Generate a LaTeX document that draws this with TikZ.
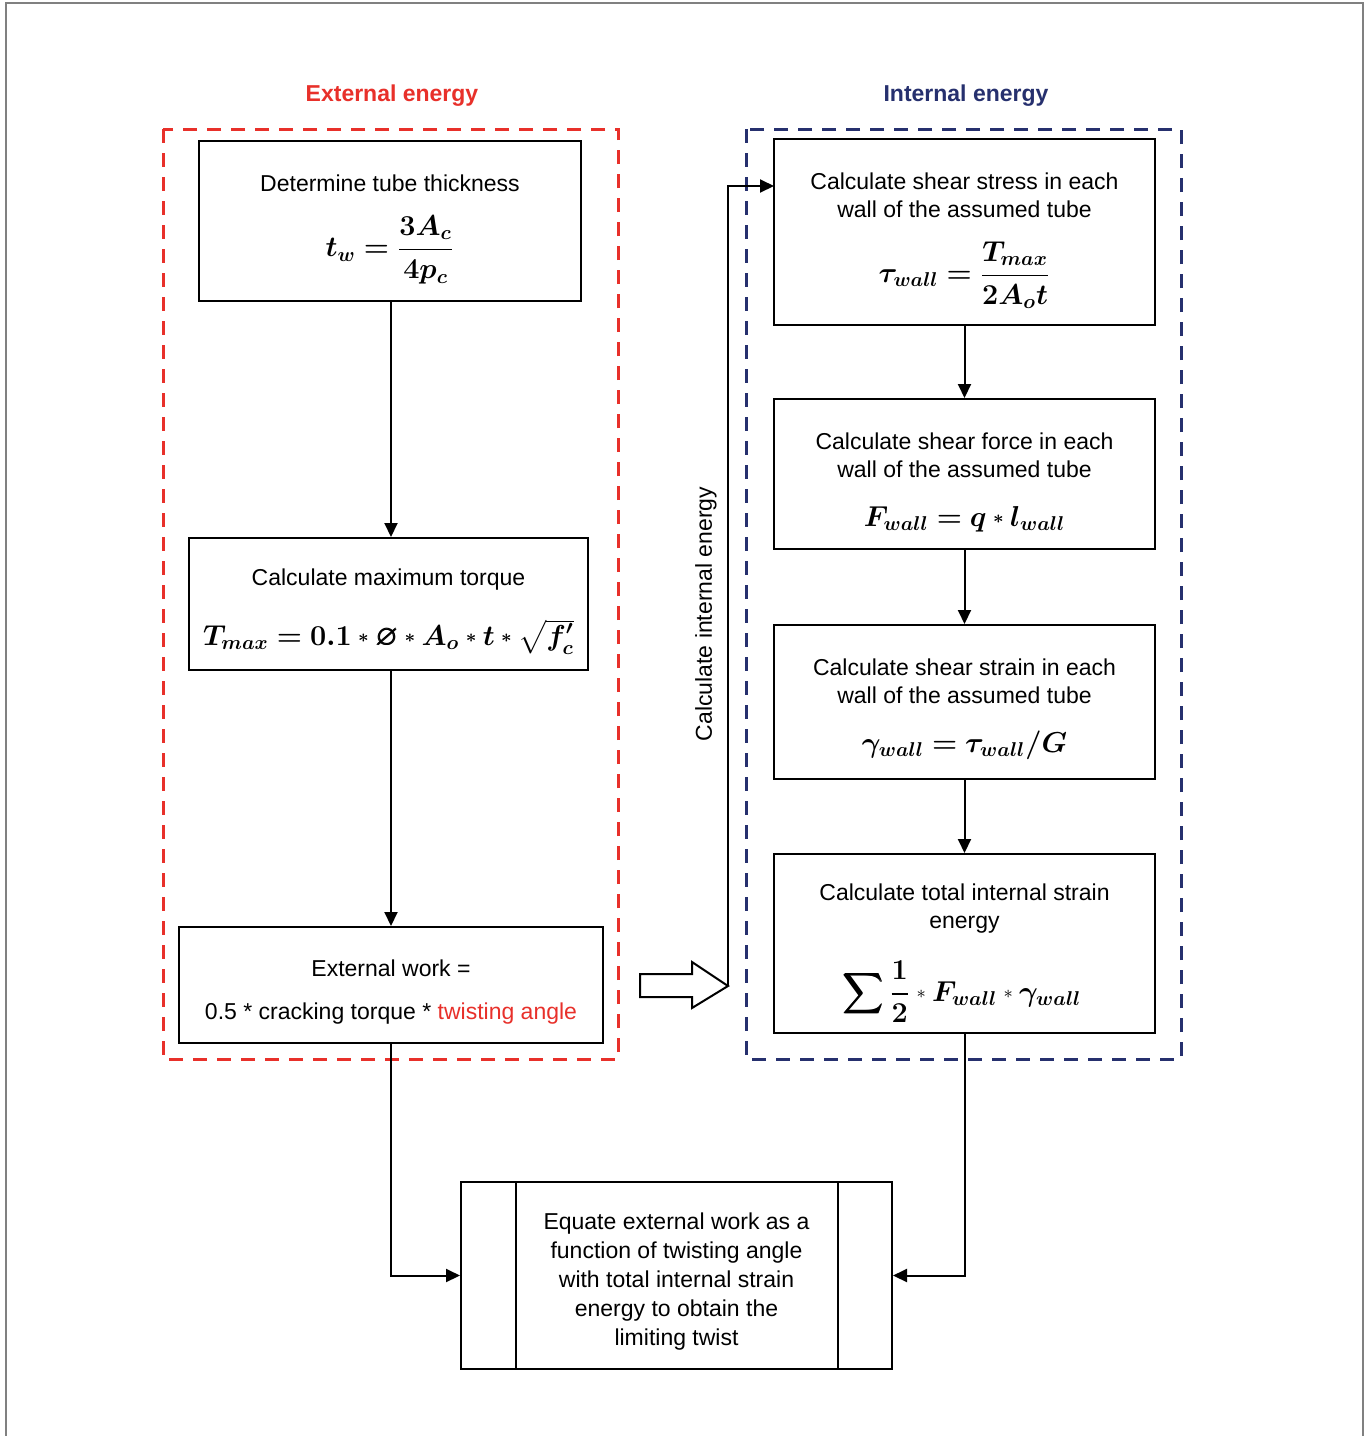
\documentclass[tikz,border=0pt]{standalone}
\usepackage{amsmath,amssymb,bm}
\usepackage{fontspec}
\setmainfont{Liberation Sans}
\usetikzlibrary{arrows.meta}
\definecolor{extred}{HTML}{E8302A}
\definecolor{intblue}{HTML}{26306E}
\newcommand\txtsz{\fontsize{11.5}{14}\selectfont}
\newcommand\mathsz{\fontsize{14}{17}\selectfont}
\newcommand\mst{\mathbin{\vcenter{\hbox{\fontsize{9}{9}\selectfont$\ast$}}}}
\tikzset{
  box/.style={draw, line width=1pt, fill=white, inner sep=0pt},
  txt/.style={font=\txtsz, align=center, inner sep=0pt},
  frm/.style={font=\mathsz, inner sep=0pt},
  arr/.style={line width=1pt, -{Triangle[length=7pt,width=6.5pt]}},
  grp/.style={line width=1.5pt, dash pattern=on 7pt off 5pt},
  ttl/.style={font=\txtsz\bfseries, inner sep=0pt}
}
\begin{document}
\begin{tikzpicture}[x=0.5pt,y=-0.5pt]
\useasboundingbox (0,0) rectangle (1370,1436);
\fill[white] (0,0) rectangle (1370,1436);
% outer frame
\draw[gray, line width=1pt] (6,1440) -- (6,3) -- (1363,3) -- (1363,1440);
% titles
\node[ttl, text=extred] (t1) at (392,96) {External energy};
\node[ttl, text=intblue] (t2) at (966,96) {Internal energy};
% group frames
\draw[grp, extred] (163,129) rectangle (618,1059);
\draw[grp, intblue] (746,129) rectangle (1181,1059);
% left column
\node[box, minimum width=191pt, minimum height=80pt] (b1) at (390,221) {};
\node[txt] (b1t) at (390,183) {Determine tube thickness};
\node[frm] (b1f) at (390,250) {$\bm{t_w = \dfrac{3A_c}{4p_c}}$};
\node[box, minimum width=199.5pt, minimum height=66pt] (b2) at (388.5,604) {};
\node[txt] (b2t) at (388.5,580) {Calculate maximum torque};
\node[frm] (b2f) at (388.5,637) {$\bm{T_{max} = 0.1 \mst \varnothing \mst A_o \mst t \mst \sqrt{f'_c}}$};
\node[box, minimum width=212pt, minimum height=58pt] (b3) at (391,985) {};
\node[txt] (b3t) at (391,968) {External work =};
\node[txt] (b3u) at (391,1014) {0.5 * cracking torque * \textcolor{extred}{twisting angle}};
\draw[arr] (b1.south -| 391,0) -- (b2.north -| 391,0);
\draw[arr] (b2.south -| 391,0) -- (b3.north -| 391,0);
% right column
\node[box, minimum width=190.5pt, minimum height=93pt] (r1) at (964.5,232) {};
\node[txt] (r1t) at (964.5,195) {Calculate shear stress in each\\wall of the assumed tube};
\node[frm] (r1f) at (964.5,275) {$\bm{\tau_{wall} = \dfrac{T_{max}}{2A_o t}}$};
\node[box, minimum width=190.5pt, minimum height=75pt] (r2) at (964.5,474) {};
\node[txt] (r2t) at (964.5,455) {Calculate shear force in each\\wall of the assumed tube};
\node[frm] (r2f) at (964.5,519) {$\bm{F_{wall} = q \mst l_{wall}}$};
\node[box, minimum width=190.5pt, minimum height=77pt] (r3) at (964.5,702) {};
\node[txt] (r3t) at (964.5,681) {Calculate shear strain in each\\wall of the assumed tube};
\node[frm] (r3f) at (964.5,745) {$\bm{\gamma_{wall} = \tau_{wall}/G}$};
\node[box, minimum width=190.5pt, minimum height=89.5pt] (r4) at (964.5,943.5) {};
\node[txt] (r4t) at (964.5,909) {Calculate total internal strain\\energy};
\node[frm] (r4f) at (962,992) {$\displaystyle\bm{\sum} \bm{\dfrac{1}{2}} \mst \bm{F_{wall}} \mst \bm{\gamma_{wall}}$};
\draw[arr] (r1.south) -- (r2.north);
\draw[arr] (r2.south) -- (r3.north);
\draw[arr] (r3.south) -- (r4.north);
% hollow arrow and feedback line
\draw[line width=1pt, fill=white] (640,974) -- (692,974) -- (692,962) -- (728,986) -- (692,1008) -- (692,997) -- (640,997) -- cycle;
\coordinate (ha) at (728,986);
\coordinate (r1in) at (774,186);
\draw[arr] (ha) -- (728,186) -- (r1in);
\node[txt, rotate=90] (lbl) at (706,614) {Calculate internal energy};
% bottom box
\node[box, minimum width=215.5pt, minimum height=93.5pt] (bb) at (676.5,1275.5) {};
\draw[line width=1pt] (516,1182) -- (516,1369);
\draw[line width=1pt] (838,1182) -- (838,1369);
\node[txt, font=\fontsize{11.5}{14.4}\selectfont] (bbt) at (676.5,1281.5) {Equate external work as a\\function of twisting angle\\with total internal strain\\energy to obtain the\\limiting twist};
\draw[arr] (b3.south -| 391,0) |- (bb.west);
\draw[arr] (r4.south) |- (bb.east);
\end{tikzpicture}
\end{document}
